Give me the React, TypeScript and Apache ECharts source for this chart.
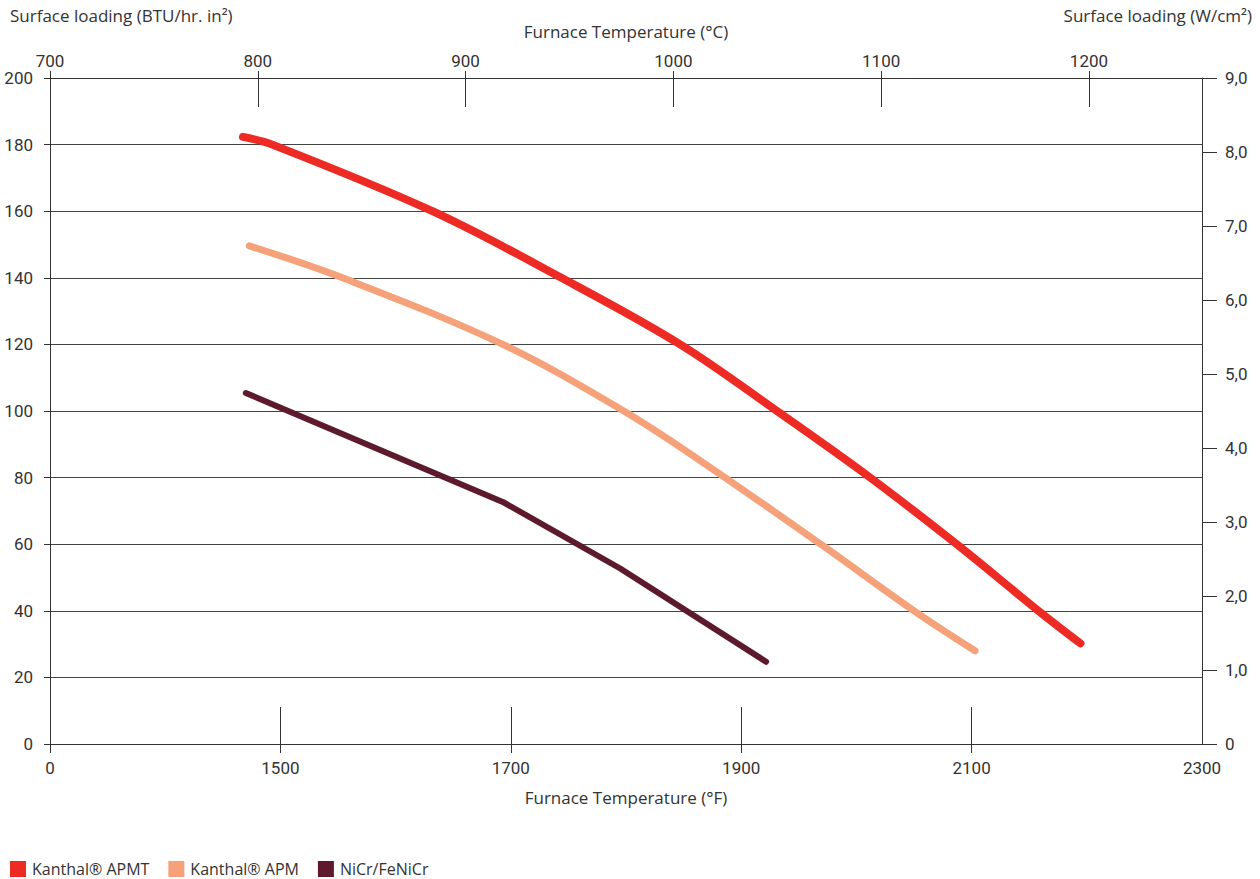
import React, { useEffect, useRef } from "react";
import * as echarts from "echarts";

// Bottom axis (°F): axis starts at 1300 but its first label reads "0"
const fahrenheitLabels = [1300, 1500, 1700, 1900, 2100, 2300];
const fahrenheitTicks = [1500, 1700, 1900, 2100];
const fahrenheitOuterTicks = [1300, 1500, 1700, 1900, 2100];
// Top axis (°C)
const celsiusLabels = [700, 800, 900, 1000, 1100, 1200];
const celsiusTicks = [800, 900, 1000, 1100, 1200];

const seriesNames = ["Kanthal® APMT", "Kanthal® APM", "NiCr/FeNiCr"];
const seriesColors = ["#ee2a24", "#f5a27b", "#5c1a2c"];

// [°F, BTU/hr.in²]
const apmtData = [
  [1467.5, 182.3], [1493, 180], [1632, 160], [1744, 140], [1847, 120], [1931, 100],
  [2012, 80], [2087, 60], [2158, 40], [2194.5, 30.2],
];
const apmData = [
  [1473, 149.6], [1554, 140], [1693, 120], [1798, 100], [1864, 85.2],
  [1969, 60], [2050, 40], [2103, 28],
];
const nicrData = [
  [1470, 105.4], [1693, 72.7], [1795, 52.7], [1921.6, 24.7],
];

const TICK_FONT = "Roboto";
const TEXT_FONT = "'Open Sans'";
const TEXT = "#333";
const LINE = "#333";

export default function App() {
  const ref = useRef<HTMLDivElement>(null);

  useEffect(() => {
    if (!ref.current) return;
    const chart = echarts.init(ref.current, undefined, { renderer: "svg" });
    const tick = { fontFamily: TICK_FONT, fontSize: 17, color: TEXT };
    const title = { fontFamily: TEXT_FONT, fontSize: 17, color: TEXT };

    chart.setOption({
      animation: false,
      backgroundColor: "#fff",
      textStyle: { fontFamily: TICK_FONT },
      grid: { left: 50, right: 58, top: 78, bottom: 135, containLabel: false },
      legend: {
        data: seriesNames,
        left: 10,
        top: 861,
        padding: 0,
        icon: "rect",
        itemWidth: 16,
        itemHeight: 16,
        itemGap: 19,
        textStyle: {
          fontFamily: TEXT_FONT,
          fontSize: 16,
          lineHeight: 16,
          color: TEXT,
          padding: [0, 0, 0, 1],
        },
      },
      graphic: [
        {
          type: "text",
          left: 10,
          top: 7,
          style: { text: "Surface loading (BTU/hr. in²)", font: `17px ${TEXT_FONT}`, fill: TEXT },
        },
        {
          type: "text",
          right: 8,
          top: 7,
          style: { text: "Surface loading (W/cm²)", font: `17px ${TEXT_FONT}`, fill: TEXT },
        },
      ],
      xAxis: [
        {
          type: "value",
          position: "bottom",
          min: 1300,
          max: 2300,
          name: "Furnace Temperature (°F)",
          nameLocation: "middle",
          nameGap: 45,
          nameMoveOverlap: false,
          nameTextStyle: title,
          axisLine: { show: true, lineStyle: { color: LINE, width: 1 } },
          axisTick: {
            show: true,
            inside: true,
            length: 37,
            customValues: fahrenheitTicks,
            lineStyle: { color: LINE, width: 1 },
          },
          axisLabel: {
            ...tick,
            margin: 15,
            customValues: fahrenheitLabels,
            formatter: (v: number) => (v === 1300 ? "0" : String(v)),
          },
          splitLine: { show: false },
        },
        {
          type: "value",
          position: "bottom",
          min: 1300,
          max: 2300,
          axisLine: { show: false },
          axisTick: {
            show: true,
            inside: false,
            length: 9,
            customValues: fahrenheitOuterTicks,
            lineStyle: { color: LINE, width: 1 },
          },
          axisLabel: { show: false },
          splitLine: { show: false },
        },
        {
          type: "value",
          position: "top",
          min: 700,
          max: 1254.4,
          name: "Furnace Temperature (°C)",
          nameLocation: "middle",
          nameGap: 38,
          nameMoveOverlap: false,
          nameTextStyle: title,
          axisLine: { show: true, lineStyle: { color: LINE, width: 1 } },
          axisTick: {
            show: true,
            inside: true,
            length: 29,
            customValues: celsiusTicks,
            lineStyle: { color: LINE, width: 1 },
          },
          axisLabel: {
            ...tick,
            margin: 9,
            customValues: celsiusLabels,
            formatter: (v: number) => String(v),
          },
          splitLine: { show: false },
        },
        {
          type: "value",
          position: "top",
          min: 700,
          max: 1254.4,
          axisLine: { show: false },
          axisTick: {
            show: true,
            inside: false,
            length: 7,
            customValues: celsiusLabels,
            lineStyle: { color: LINE, width: 1 },
          },
          axisLabel: { show: false },
          splitLine: { show: false },
        },
      ],
      yAxis: [
        {
          type: "value",
          position: "left",
          min: 0,
          max: 200,
          interval: 20,
          axisLine: { show: true, lineStyle: { color: LINE, width: 1 } },
          axisTick: { show: true, inside: false, length: 6, lineStyle: { color: LINE, width: 1 } },
          axisLabel: { ...tick, margin: 17, formatter: (v: number) => String(v) },
          splitLine: { show: true, lineStyle: { color: "#444", width: 1 } },
        },
        {
          type: "value",
          position: "right",
          min: 0,
          max: 9,
          interval: 1,
          axisLine: { show: true, lineStyle: { color: LINE, width: 1 } },
          axisTick: { show: true, inside: false, length: 15, lineStyle: { color: LINE, width: 1 } },
          axisLabel: {
            ...tick,
            margin: 23,
            formatter: (v: number) => (v === 0 ? "0" : v.toFixed(1).replace(".", ",")),
          },
          splitLine: { show: false },
        },
      ],
      series: [
        {
          name: seriesNames[0],
          type: "line",
          xAxisIndex: 0,
          yAxisIndex: 0,
          data: apmtData,
          smooth: 0.35,
          showSymbol: false,
          color: seriesColors[0],
          itemStyle: { color: seriesColors[0] },
          lineStyle: { width: 8, color: seriesColors[0], cap: "round", join: "round" },
        },
        {
          name: seriesNames[1],
          type: "line",
          xAxisIndex: 0,
          yAxisIndex: 0,
          data: apmData,
          smooth: 0.35,
          showSymbol: false,
          color: seriesColors[1],
          itemStyle: { color: seriesColors[1] },
          lineStyle: { width: 7, color: seriesColors[1], cap: "round", join: "round" },
        },
        {
          name: seriesNames[2],
          type: "line",
          xAxisIndex: 0,
          yAxisIndex: 0,
          data: nicrData,
          smooth: false,
          showSymbol: false,
          color: seriesColors[2],
          itemStyle: { color: seriesColors[2] },
          lineStyle: { width: 6, color: seriesColors[2], cap: "round", join: "round" },
        },
      ],
    });

    return () => chart.dispose();
  }, []);

  return (
    <div
      ref={ref}
      style={{ position: "fixed", left: 0, top: 0, width: 1260, height: 879, background: "#fff" }}
    />
  );
}
